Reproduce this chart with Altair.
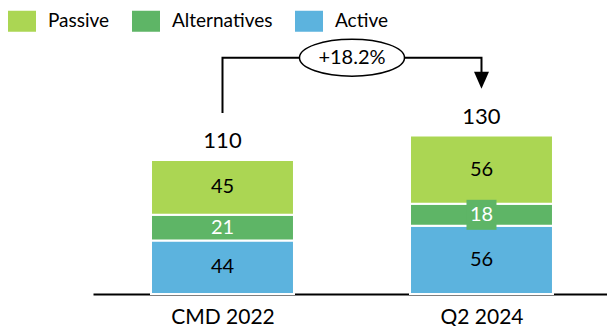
import json

import altair as alt
import pandas as pd

# ---- data -----------------------------------------------------------------
categories = ["CMD 2022", "Q2 2024"]
series = ["Passive", "Alternatives", "Active"]          # legend order
active = [44, 56]
alternatives = [21, 18]
passive = [45, 56]
series_colors = ["#ABD653", "#5EB566", "#5CB3DE"]

FONT = "Lato"
BAR_HALF = 0.276          # half bar width, in category units
GAP = 38.5                # distance from a bar total to the connector end (value units)
BRACKET = 194             # level of the horizontal connector (value units)

# ---- tables built from the arrays above ----------------------------------
rows = []
for i, cat in enumerate(categories):
    base = 0
    for name, vals in (("Active", active), ("Alternatives", alternatives), ("Passive", passive)):
        v = vals[i]
        rows.append(dict(category=cat, idx=i, series=name, value=v,
                         y0=base, y1=base + v, mid=base + v / 2,
                         x0=i - BAR_HALF, x1=i + BAR_HALF))
        base += v
seg = pd.DataFrame(rows)

totals = seg.groupby(["category", "idx"], as_index=False)["value"].sum()
t0, t1 = totals["value"].tolist()
growth = f"+{(t1 / t0 - 1) * 100:.1f}%"

connector = pd.DataFrame({
    "x": [0, 0, 1, 1],
    "y": [t0 + GAP, BRACKET, BRACKET, t1 + GAP + 7],
    "order": [0, 1, 2, 3],
})
arrow = pd.DataFrame({"x": [1], "y": [t1 + GAP + 7]})
badge = pd.DataFrame({"x": [0.5], "y": [BRACKET], "label": [growth]})

# ---- scales / axes ---------------------------------------------------------
xscale = alt.Scale(domain=[-0.5, 1.4846], nice=False, zero=False)
yscale = alt.Scale(domain=[0, 216.7], nice=False, zero=True)
xaxis = alt.Axis(
    values=[0, 1],
    labelExpr=f"{json.dumps(categories)}[datum.value]",
    title=None, grid=False, ticks=False,
    domainColor="black", domainWidth=2,
    labelFont=FONT, labelFontSize=21, labelColor="black", labelPadding=12,
)


def X(field):
    return alt.X(field, type="quantitative", scale=xscale, axis=xaxis)


def Y(field):
    return alt.Y(field, type="quantitative", scale=yscale, axis=None)


color = alt.Color(
    "series:N",
    scale=alt.Scale(domain=series, range=series_colors),
    legend=alt.Legend(
        title=None, orient="none", direction="horizontal",
        legendX=-85, legendY=-23,
        symbolType="M-1,-0.75H1V0.75H-1Z", symbolSize=784, symbolStrokeWidth=0,
        symbolOpacity=1,
        labelFont=FONT, labelFontSize=19, labelColor="black",
        labelOffset=12, columnPadding=22,
    ),
)

bars = alt.Chart(seg).mark_bar(stroke="white", strokeWidth=2).encode(
    x=X("x0"), x2="x1", y=Y("y0"), y2="y1", color=color,
)

# filled backing box behind labels on thin segments
label_box = alt.Chart(seg).transform_filter("datum.value < 20").mark_point(
    shape="square", size=900, filled=True, color="#5EB566", opacity=1,
).encode(x=X("idx"), y=Y("mid"))

seg_labels = alt.Chart(seg).mark_text(
    font=FONT, fontSize=20, baseline="middle", align="center",
).encode(
    x=X("idx"), y=Y("mid"), text="value:Q",
    color=alt.condition(alt.datum.series == "Alternatives",
                        alt.value("white"), alt.value("black")),
)

total_labels = alt.Chart(totals).mark_text(
    font=FONT, fontSize=22, baseline="middle", align="center", dy=-19, color="black",
).encode(x=X("idx"), y=Y("value"), text="value:Q")

line = alt.Chart(connector).mark_line(color="black", strokeWidth=2).encode(
    x=X("x"), y=Y("y"), order="order:Q",
)

arrowhead = alt.Chart(arrow).mark_point(
    shape="M-1,-1.133L1,-1.133L0,1.133Z", size=225,
    filled=True, color="black", opacity=1,
).encode(x=X("x"), y=Y("y"))

ellipse = alt.Chart(badge).mark_point(
    shape="M-1,0A1,0.352,0,1,0,1,0A1,0.352,0,1,0,-1,0Z", size=11025,
    filled=True, fill="white", stroke="black", strokeWidth=1.5, opacity=1,
).encode(x=X("x"), y=Y("y"))

badge_text = alt.Chart(badge).mark_text(
    font=FONT, fontSize=20, baseline="middle", align="center", color="black",
).encode(x=X("x"), y=Y("y"), text="label:N")

chart = alt.layer(
    bars, label_box, seg_labels, total_labels, line, arrowhead, ellipse, badge_text,
).properties(
    width=514, height=264,
    background="white",
    padding={"left": 93, "top": 30, "right": 0, "bottom": 32},
    autosize=alt.AutoSizeParams(type="none"),
).configure_view(stroke=None)

chart.save("out.html", embed_options={"renderer": "svg", "actions": False})
